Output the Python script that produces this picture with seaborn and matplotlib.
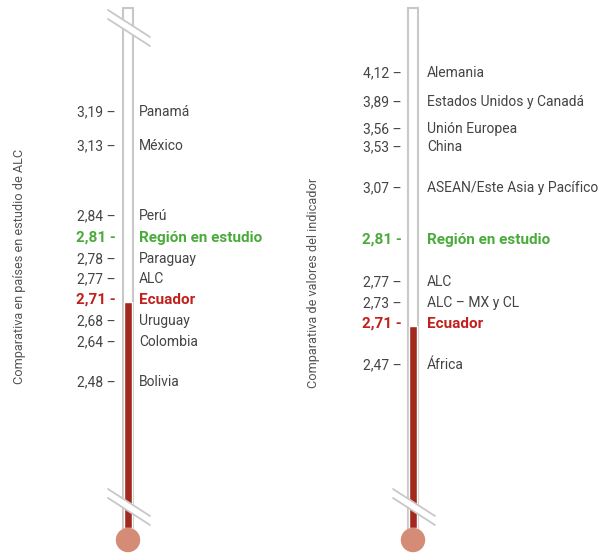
import matplotlib.pyplot as plt
import matplotlib.patches as mpatches
import seaborn as sns

# left thermometer: countries of the region
left_names = ["Panamá", "México", "Perú", "Región en estudio", "Paraguay",
              "ALC", "Ecuador", "Uruguay", "Colombia", "Bolivia"]
left_values = [3.19, 3.13, 2.84, 2.81, 2.78, 2.77, 2.71, 2.68, 2.64, 2.48]

# right thermometer: other regions
right_names = ["Alemania", "Estados Unidos y Canadá", "Unión Europea", "China",
               "ASEAN/Este Asia y Pacífico", "Región en estudio", "ALC",
               "ALC – MX y CL", "Ecuador", "África"]
right_values = [4.12, 3.89, 3.56, 3.53, 3.07, 2.81, 2.77, 2.73, 2.71, 2.47]

left_title = "Comparativa en países en estudio de ALC"
right_title = "Comparativa de valores del indicador"

# layout: text rows (pixels from top) for each label
left_rows = [112, 146, 216, 238, 259, 279, 300, 321, 342, 382]
right_rows = [73, 102, 129, 147, 188, 240, 282, 303, 324, 365]

GREEN = "#4aab3a"
RED = "#c0211d"
GRAY = "#444444"
TUBE = "#c8c8c8"
FILL = "#a3291f"
BULB = "#d48c76"

sns.set_theme(style="white")
plt.rcParams["font.family"] = ["Roboto", "DejaVu Sans"]

fig = plt.figure(figsize=(6.02, 5.54), dpi=100)
ax = fig.add_axes([0, 0, 1, 1])
ax.set_xlim(0, 602)
ax.set_ylim(554, 0)
ax.axis("off")


def fmt(v):
    return f"{v:.2f}".replace(".", ",")


def draw_break(cx, y):
    a = (cx - 20, y)
    b = (cx + 22, y + 27)
    c = (cx + 22, y + 36)
    d = (cx - 20, y + 9)
    ax.add_patch(mpatches.Polygon([a, b, c, d], closed=True, facecolor="white",
                                  edgecolor="none", zorder=4))
    ax.plot([a[0], b[0]], [a[1], b[1]], color=TUBE, lw=1.3, zorder=5)
    ax.plot([d[0], c[0]], [d[1], c[1]], color=TUBE, lw=1.3, zorder=5)


def thermometer(cx, names, values, rows, val_x, name_x, title, title_x, title_y,
                top_break):
    top, bottom = 8, 528
    # glass tube
    ax.add_patch(mpatches.Rectangle((cx - 5, top), 10, bottom - top, facecolor="white",
                                    edgecolor=TUBE, lw=1.5, zorder=1))
    # red level up to Ecuador
    level = rows[names.index("Ecuador")] + 2
    ax.bar(cx, bottom - level, bottom=level, width=8.5, color=FILL, zorder=2)
    ax.add_patch(mpatches.Circle((cx, 540), 11.5, color=BULB, zorder=6))
    if top_break:
        draw_break(cx, 10)
    draw_break(cx, 489)

    for name, v, r in zip(names, values, rows):
        if name == "Región en estudio":
            col, w, dash, fs = GREEN, "bold", " -", 11
        elif name == "Ecuador":
            col, w, dash, fs = RED, "bold", " -", 11
        else:
            col, w, dash, fs = GRAY, "normal", " –", 10
        ax.text(val_x, r, fmt(v) + dash, ha="right", va="center", fontsize=fs,
                color=col, fontweight=w)
        ax.text(name_x, r, name, ha="left", va="center", fontsize=fs,
                color=col, fontweight=w)

    ax.text(title_x, title_y, title, rotation=90, ha="center", va="center",
            fontsize=9.2, color="#555555")


thermometer(128, left_names, left_values, left_rows, 116, 139,
            left_title, 20, 266, True)
thermometer(413, right_names, right_values, right_rows, 402, 427,
            right_title, 313, 283, False)

fig.savefig("out.png", dpi=100)
